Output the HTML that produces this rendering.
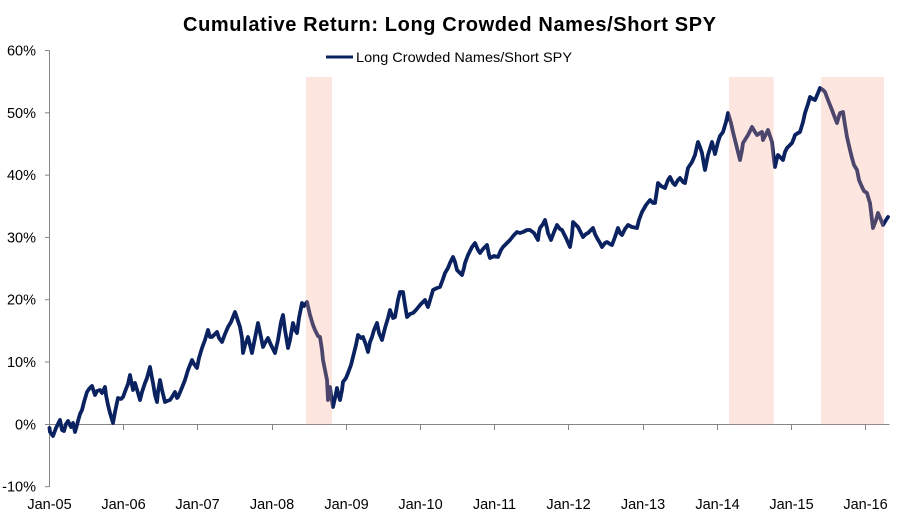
<!DOCTYPE html>
<html>
<head>
<meta charset="utf-8">
<style>
html,body{margin:0;padding:0;background:#fff;}
svg{display:block;}
text{font-family:"Liberation Sans",Arial,sans-serif;fill:#000;}
</style>
</head>
<body>
<svg width="898" height="515" viewBox="0 0 898 515" xmlns="http://www.w3.org/2000/svg">
<rect x="0" y="0" width="898" height="515" fill="#fff"/>
<text x="183" y="31" font-size="20" font-weight="bold" textLength="533" lengthAdjust="spacing">Cumulative Return: Long Crowded Names/Short SPY</text>
<line x1="326" y1="57" x2="353" y2="57" stroke="#0b2260" stroke-width="3"/>
<text x="356" y="62" font-size="14" textLength="216" lengthAdjust="spacingAndGlyphs">Long Crowded Names/Short SPY</text>

<g stroke="#868686" stroke-width="1" fill="none">
<line x1="49.5" y1="50.5" x2="49.5" y2="487"/>
<line x1="45" y1="50.5" x2="49.5" y2="50.5"/>
<line x1="45" y1="112.8" x2="49.5" y2="112.8"/>
<line x1="45" y1="175.1" x2="49.5" y2="175.1"/>
<line x1="45" y1="237.4" x2="49.5" y2="237.4"/>
<line x1="45" y1="299.7" x2="49.5" y2="299.7"/>
<line x1="45" y1="362" x2="49.5" y2="362"/>
<line x1="45" y1="424.5" x2="49.5" y2="424.5"/>
<line x1="45" y1="486.7" x2="49.5" y2="486.7"/>
<line x1="49.5" y1="424.5" x2="889.5" y2="424.5"/>
<line x1="123.5" y1="424.5" x2="123.5" y2="430"/>
<line x1="197.5" y1="424.5" x2="197.5" y2="430"/>
<line x1="272.5" y1="424.5" x2="272.5" y2="430"/>
<line x1="346.5" y1="424.5" x2="346.5" y2="430"/>
<line x1="420.5" y1="424.5" x2="420.5" y2="430"/>
<line x1="494.5" y1="424.5" x2="494.5" y2="430"/>
<line x1="568.5" y1="424.5" x2="568.5" y2="430"/>
<line x1="643.5" y1="424.5" x2="643.5" y2="430"/>
<line x1="717.5" y1="424.5" x2="717.5" y2="430"/>
<line x1="791.5" y1="424.5" x2="791.5" y2="430"/>
<line x1="865.5" y1="424.5" x2="865.5" y2="430"/>
</g>

<g font-size="14.5" text-anchor="end">
<text x="36" y="55.5">60%</text>
<text x="36" y="117.8">50%</text>
<text x="36" y="180.1">40%</text>
<text x="36" y="242.4">30%</text>
<text x="36" y="304.7">20%</text>
<text x="36" y="367">10%</text>
<text x="36" y="429.5">0%</text>
<text x="36" y="491.7">-10%</text>
</g>
<g font-size="14.5" text-anchor="middle">
<text x="49.5" y="509">Jan-05</text>
<text x="123.5" y="509">Jan-06</text>
<text x="197.5" y="509">Jan-07</text>
<text x="272" y="509">Jan-08</text>
<text x="346.5" y="509">Jan-09</text>
<text x="420.5" y="509">Jan-10</text>
<text x="494.5" y="509">Jan-11</text>
<text x="568.5" y="509">Jan-12</text>
<text x="643" y="509">Jan-13</text>
<text x="717.5" y="509">Jan-14</text>
<text x="791.5" y="509">Jan-15</text>
<text x="865.5" y="509">Jan-16</text>
</g>

<polyline fill="none" stroke="#0b2260" stroke-width="3.8" stroke-linejoin="round" stroke-linecap="round" points="49.5,428 50,432 53,436 56,428 58,424 60,420 62,430 64,431 66,424 68,421 71,427 73,423 75,432 77,425 78,421 80,414 82,410 84,402 87,392 89,389 92,386 94,392 95,395 97,391 100,390 102,393 105,387 106,395 108,405 110,413 113,423 115,412 118,398 121,399 123,397 126,389 128,384 130,375 132,385 133,390 135,383 138,393 140,400 142,392 145,383 147,378 150,367 152,378 153,383 155,395 157,402 158,392 160,380 162,390 165,402 167,401 170,400 172,397 175,392 177,398 178,397 181,390 185,380 188,370 192,360 194,364 197,368 199,358 202,348 205,340 208,330 210,337 212,337 215,334 217,332 219,338 222,342 225,334 228,327 231,322 235,312 237,318 240,327 242,338 243,353 245,345 248,337 250,345 252,353 255,338 258,323 261,337 263,347 265,343 268,338 271,345 275,353 278,340 281,322 283,315 285,330 288,348 290,340 293,323 295,330 297,333 299,318 302,303 304,306 307,302 310,315 313,325 315,330 318,336 320,337 322,350 323,360 325,370 327,380 328,400 330,387 331,395 333,407 335,398 337,388 338,393 340,400 342,390 343,382 346,378 348,373 351,365 353,357 356,345 358,335 361,338 363,337 366,345 368,352 370,342 372,337 374,330 377,323 379,333 382,340 384,332 385,328 388,318 390,310 393,318 395,317 398,300 400,292 403,292 405,305 407,317 410,314 413,313 416,310 420,305 423,302 425,300 427,305 428,307 431,297 433,290 437,288 440,287 443,279 445,273 448,268 450,263 453,257 455,262 457,270 459,272 462,275 464,268 465,263 468,255 472,247 475,243 478,250 480,253 483,249 487,245 489,255 490,258 494,256 498,257 501,250 503,247 507,243 510,240 514,235 517,232 520,233 523,232 527,230 530,230 534,233 538,240 539,232 540,228 543,224 545,220 547,228 548,233 551,240 554,232 557,225 560,229 562,230 566,238 570,247 572,235 573,222 576,225 578,227 581,233 583,237 586,234 588,233 591,230 593,228 595,234 597,238 600,243 602,247 605,243 607,242 610,244 612,245 615,237 618,228 620,233 622,235 625,229 628,225 632,227 637,228 639,220 642,212 646,205 650,200 653,203 655,203 657,190 658,183 661,186 665,188 668,180 670,177 673,183 675,185 678,180 680,178 683,182 685,183 687,173 688,168 692,162 695,155 697,146 698,142 700,147 702,153 704,165 705,170 708,155 712,142 714,150 715,154 718,142 720,136 723,132 726,122 728,113 731,123 733,132 737,148 740,160 742,150 743,143 748,135 752,127 755,132 757,135 760,133 762,132 763,140 766,134 768,130 770,136 772,142 774,160 775,167 777,158 778,155 781,158 783,160 785,152 787,148 790,145 792,143 794,138 795,135 798,133 800,132 803,122 805,113 808,104 810,97 813,99 815,100 818,93 820,88 823,90 825,92 828,100 832,110 835,118 837,123 839,116 840,113 843,112 845,125 847,137 850,150 852,158 854,165 857,170 859,180 862,187 864,191 867,193 869,200 870,203 872,220 873,228 876,220 878,213 881,220 883,225 886,220 888,217"/>

<g fill="rgb(248,166,144)" fill-opacity="0.28">
<rect x="306" y="77" width="26" height="347.5"/>
<rect x="729" y="77" width="44.7" height="347.5"/>
<rect x="821" y="77" width="63" height="347.5"/>
</g>
</svg>
</body>
</html>
